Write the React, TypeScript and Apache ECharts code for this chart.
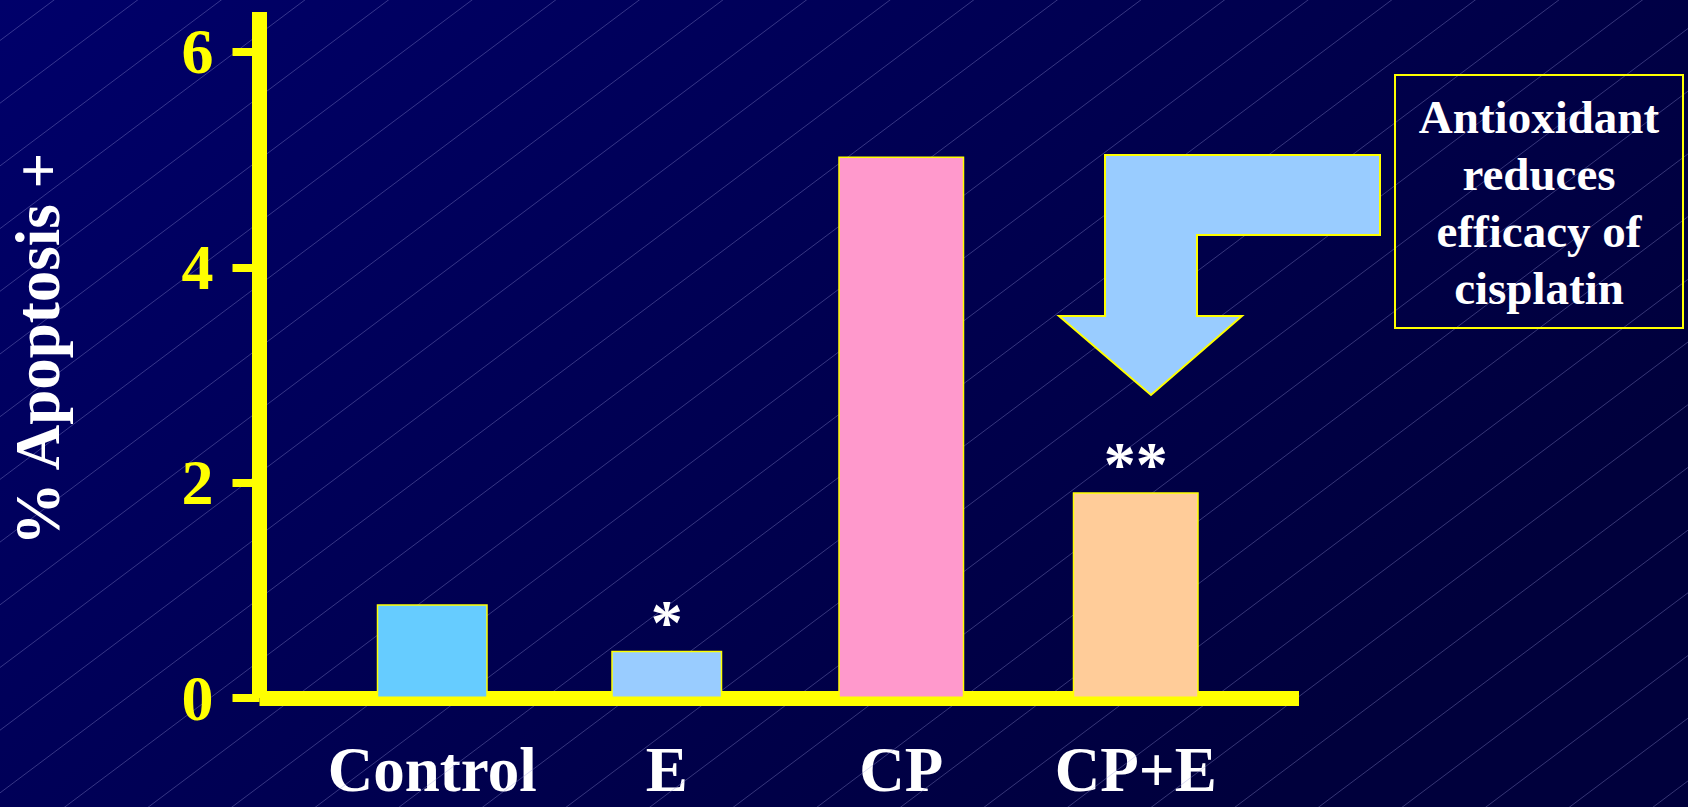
import React, { useEffect, useRef } from "react";
import * as echarts from "echarts";

// Treatment groups and their apoptosis percentages
const categories = ["Control", "E", "CP", "CP+E"];
const apoptosisPct = [0.87, 0.44, 5.03, 1.91];
const significance = ["", "*", "", "**"];
const yTickValues = [0, 2, 4, 6];
const yAxisTitle = "% Apoptosis +";
const calloutLines = ["Antioxidant", "reduces", "efficacy of", "cisplatin"];

// Styling
const SERIF = '"Liberation Serif", "Times New Roman", serif';
const YELLOW = "#FFFF00";
const BAR_COLORS = ["#66CCFF", "#99CCFF", "#FF99CC", "#FFCC99"];
const W = 1688;
const H = 807;

// Plot frame (pixels)
const FRAME = { left: 259.5, right: 389, top: 12, bottom: 109 };
const BAR_GRID = { left: 315, right: 435, top: 12, bottom: 109 };
const Y_MIN = 0;
const Y_MAX = 6.3715;

// Faint diagonal pin-stripes of the slide background
function stripeLines() {
  const out: any[] = [];
  const slope = 0.75;
  const step = 62.7;
  const phase = 40.5;
  const span = H + slope * W;
  for (let c = phase; c < span + step; c += step) {
    out.push({
      type: "line",
      silent: true,
      z: 1,
      shape: { x1: 0, y1: c, x2: W, y2: c - slope * W },
      style: { stroke: "rgba(150,150,215,0.36)", lineWidth: 1 },
    });
  }
  return out;
}

function barItem(i: number) {
  const mark = significance[i];
  return {
    value: apoptosisPct[i],
    itemStyle: { color: BAR_COLORS[i] },
    label: {
      show: mark !== "",
      formatter: mark,
      position: "top",
      distance: 0,
      offset: [0, 4],
      color: "#FFFFFF",
      fontSize: 64,
      fontWeight: "bold",
      fontFamily: SERIF,
    },
  };
}

export default function App() {
  const ref = useRef<HTMLDivElement>(null);

  useEffect(() => {
    document.body.style.margin = "0";
    document.body.style.overflow = "hidden";
    if (!ref.current) return;
    const chart = echarts.init(ref.current, undefined, { renderer: "svg" });

    const arrowPoints = [
      [1105, 155],
      [1380, 155],
      [1380, 235],
      [1197, 235],
      [1197, 316],
      [1242, 316],
      [1151, 395],
      [1059, 316],
      [1105, 316],
    ];

    const axisLineStyle = { color: YELLOW, width: 15, cap: "butt" };

    const option: any = {
      animation: false,
      backgroundColor: new echarts.graphic.LinearGradient(0, 0, 1, 0.5, [
        { offset: 0, color: "#00006a" },
        { offset: 1, color: "#00003c" },
      ]),
      grid: [
        { ...FRAME, outerBoundsMode: "none", containLabel: false },
        { ...BAR_GRID, outerBoundsMode: "none", containLabel: false },
      ],
      xAxis: [
        {
          type: "value",
          gridIndex: 0,
          min: 0,
          max: 1,
          z: 3,
          axisLine: { show: true, lineStyle: axisLineStyle },
          axisTick: { show: false },
          axisLabel: { show: false },
          splitLine: { show: false },
        },
        {
          type: "category",
          gridIndex: 1,
          data: categories,
          axisLine: { show: false },
          axisTick: { show: false },
          axisLabel: {
            color: "#FFFFFF",
            fontSize: 63,
            lineHeight: 44,
            fontWeight: "bold",
            fontFamily: SERIF,
            margin: 50,
            interval: 0,
          },
          splitLine: { show: false },
        },
        {
          type: "category",
          gridIndex: 1,
          data: categories,
          show: false,
        },
      ],
      yAxis: [
        {
          type: "value",
          gridIndex: 0,
          min: Y_MIN,
          max: Y_MAX,
          interval: 2,
          z: 3,
          name: yAxisTitle,
          nameLocation: "middle",
          nameRotate: 90,
          nameGap: 190,
          nameTextStyle: {
            color: "#FFFFFF",
            fontSize: 63,
            fontWeight: "bold",
            fontFamily: SERIF,
            padding: [0, 0, 0, 12],
          },
          axisLine: { show: true, lineStyle: axisLineStyle },
          axisTick: {
            show: true,
            length: 27,
            customValues: yTickValues,
            lineStyle: { color: YELLOW, width: 8, cap: "butt" },
          },
          axisLabel: {
            customValues: yTickValues,
            color: YELLOW,
            fontSize: 64,
            fontWeight: "bold",
            fontFamily: SERIF,
            margin: 46,
            padding: [0, 0, 12, 0],
            formatter: (v: number) => (yTickValues.includes(v) ? String(v) : ""),
          },
          splitLine: { show: false },
        },
        {
          type: "value",
          gridIndex: 1,
          min: Y_MIN,
          max: Y_MAX,
          show: false,
          splitLine: { show: false },
        },
      ],
      series: [
        {
          type: "bar",
          xAxisIndex: 1,
          yAxisIndex: 1,
          barWidth: 111,
          z: 4,
          itemStyle: { borderColor: YELLOW, borderWidth: 1.5 },
          data: apoptosisPct.map((_, i) => (i < 2 ? barItem(i) : "-")),
        },
        {
          type: "bar",
          xAxisIndex: 2,
          yAxisIndex: 1,
          barWidth: 126,
          z: 4,
          itemStyle: { borderColor: YELLOW, borderWidth: 1.5 },
          data: apoptosisPct.map((_, i) => (i >= 2 ? barItem(i) : "-")),
        },
      ],
      graphic: [
        ...stripeLines(),
        {
          type: "polygon",
          z: 10,
          shape: { points: arrowPoints },
          style: { fill: "#99CCFF", stroke: YELLOW, lineWidth: 2 },
        },
        {
          type: "rect",
          z: 10,
          shape: { x: 1395, y: 75, width: 288, height: 253 },
          style: { fill: "transparent", stroke: YELLOW, lineWidth: 2 },
        },
        {
          type: "text",
          z: 10,
          x: 1539,
          y: 202,
          style: {
            text: calloutLines.join("\n"),
            fill: "#FFFFFF",
            font: `bold 47px ${SERIF}`,
            align: "center",
            verticalAlign: "middle",
            lineHeight: 57,
          },
        },
      ],
    };

    chart.setOption(option);
    return () => chart.dispose();
  }, []);

  return <div ref={ref} style={{ width: "100vw", height: "100vh" }} />;
}
